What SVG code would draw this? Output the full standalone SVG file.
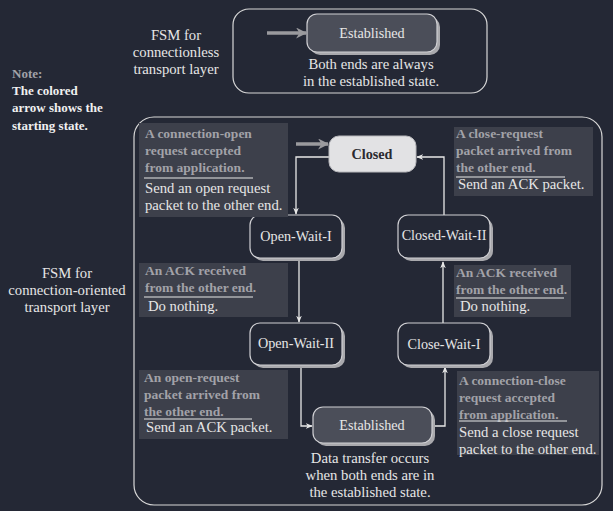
<svg xmlns="http://www.w3.org/2000/svg" width="613" height="511" viewBox="0 0 613 511">
<defs>
<marker id="ah" viewBox="0 0 10 10" refX="9" refY="5" markerWidth="7" markerHeight="7" orient="auto" markerUnits="userSpaceOnUse"><path d="M0,1 L10,5 L0,9 L3,5 Z" fill="#e8e8e8"/></marker>
<marker id="gh" viewBox="0 0 10 10" refX="9" refY="5" markerWidth="11" markerHeight="11" orient="auto" markerUnits="userSpaceOnUse"><path d="M0,0 L10,5 L0,10 L3,5 Z" fill="#9a9a9e"/></marker>
</defs>
<style>
text{font-family:"Liberation Serif","Times New Roman",serif;font-size:14.7px;fill:#e6e6e6}
.c{text-anchor:middle}
.n{font-size:14.2px}
.b{font-weight:bold;fill:#a2a2a8;font-size:13.5px}
.nb{font-weight:bold;fill:#f0f0f0;font-size:13px}
.frame{fill:none;stroke:#d8d8d8;stroke-width:1.2}
.ann{fill:#3d404b}
.sep{stroke:#e8e8e8;stroke-width:1.2}
.sh{fill:#a9a9ad}
.st{fill:#242835;stroke:#d0d0d4;stroke-width:1.2}
.est{fill:#4b4e59;stroke:#d0d0d4;stroke-width:1.2}
.con{fill:none;stroke:#e8e8e8;stroke-width:1.3}
.ga{fill:none;stroke:#9a9a9e;stroke-width:3.5}
</style>
<rect width="613" height="511" fill="#242835"/>

<g id="note">
<text x="12" y="78" class="b" style="font-size:13px">Note:</text>
<text x="12" y="95" class="nb">The colored</text>
<text x="12" y="112" class="nb">arrow shows the</text>
<text x="12" y="130" class="nb">starting state.</text>
</g>

<g id="label-connectionless">
<text x="176" y="40" class="c">FSM for</text>
<text x="176" y="57" class="c">connectionless</text>
<text x="176" y="74" class="c">transport layer</text>
</g>

<g id="label-connection-oriented">
<text x="67" y="278" class="c">FSM for</text>
<text x="67" y="295" class="c">connection-oriented</text>
<text x="67" y="312" class="c">transport layer</text>
</g>

<g id="frames">
<rect x="233" y="9" width="254" height="84" rx="16" class="frame"/>
<rect x="134" y="117" width="468" height="388" rx="20" class="frame"/>
</g>

<g id="connectors">
<path d="M267,33 L306,33" class="ga" marker-end="url(#gh)"/>
<path d="M296,144 L328,144" class="ga" marker-end="url(#gh)"/>
<path d="M329,157 L296,157 L296,214" class="con" marker-end="url(#ah)"/>
<path d="M299,261 L299,322" class="con" marker-end="url(#ah)"/>
<path d="M301,368 L301,426 L312,426" class="con" marker-end="url(#ah)"/>
<path d="M432,426 L445,426 L445,367" class="con" marker-end="url(#ah)"/>
<path d="M443,323 L443,262" class="con" marker-end="url(#ah)"/>
<path d="M444,215 L444,157 L417,157" class="con" marker-end="url(#ah)"/>
</g>

<g id="established-top">
<rect x="310" y="17" width="130" height="38" rx="10" class="sh"/>
<rect x="307" y="14" width="130" height="38" rx="10" class="est"/>
<text x="372" y="38" class="c n">Established</text>
<text x="371" y="69" class="c">Both ends are always</text>
<text x="371" y="86" class="c">in the established state.</text>
</g>

<g id="closed">
<rect x="329" y="136" width="87" height="36" rx="10" fill="#e2e2e4" stroke="#b8b8bc" stroke-width="1"/>
<text x="372" y="159" class="c n" style="font-weight:bold;fill:#2a2a30">Closed</text>
</g>

<g id="open-wait-1">
<rect x="253" y="218" width="92" height="43" rx="10" class="sh"/>
<rect x="250" y="215" width="92" height="43" rx="10" class="st"/>
<text x="296" y="241" class="c n">Open-Wait-I</text>
</g>

<g id="open-wait-2">
<rect x="253" y="326" width="92" height="42" rx="10" class="sh"/>
<rect x="250" y="323" width="92" height="42" rx="10" class="st"/>
<text x="296" y="348" class="c n">Open-Wait-II</text>
</g>

<g id="closed-wait-2">
<rect x="401" y="218" width="92" height="43" rx="10" class="sh"/>
<rect x="398" y="215" width="92" height="43" rx="10" class="st"/>
<text x="444" y="240" class="c n">Closed-Wait-II</text>
</g>

<g id="close-wait-1">
<rect x="401" y="326" width="92" height="42" rx="10" class="sh"/>
<rect x="398" y="323" width="92" height="42" rx="10" class="st"/>
<text x="444" y="349" class="c n">Close-Wait-I</text>
</g>

<g id="established">
<rect x="316" y="410" width="119" height="36" rx="10" class="sh"/>
<rect x="313" y="407" width="119" height="36" rx="10" class="est"/>
<text x="372" y="430" class="c n">Established</text>
<text x="370" y="463" class="c">Data transfer occurs</text>
<text x="370" y="480" class="c">when both ends are in</text>
<text x="370" y="497" class="c">the established state.</text>
</g>

<g id="ann-open">
<rect x="139" y="123" width="149" height="94" class="ann"/>
<text x="145" y="138" class="b">A connection-open</text>
<text x="145" y="155" class="b">request accepted</text>
<text x="145" y="172" class="b">from application.</text>
<line x1="144" y1="178" x2="253" y2="178" class="sep"/>
<text x="145" y="193">Send an open request</text>
<text x="145" y="210">packet to the other end.</text>
</g>

<g id="ann-close-req">
<rect x="454" y="127" width="139" height="69" class="ann"/>
<text x="456" y="138" class="b">A close-request</text>
<text x="456" y="155" class="b">packet arrived from</text>
<text x="456" y="172" class="b">the other end.</text>
<line x1="456" y1="177" x2="565" y2="177" class="sep"/>
<text x="458" y="189">Send an ACK packet.</text>
</g>

<g id="ann-ack-left">
<rect x="139" y="263" width="149" height="54" class="ann"/>
<text x="145" y="275" class="b">An ACK received</text>
<text x="145" y="292" class="b">from the other end.</text>
<line x1="144" y1="297" x2="253" y2="297" class="sep"/>
<text x="148" y="311">Do nothing.</text>
</g>

<g id="ann-ack-right">
<rect x="454" y="265" width="117" height="52" class="ann"/>
<text x="456" y="277" class="b">An ACK received</text>
<text x="456" y="294" class="b">from the other end.</text>
<line x1="456" y1="298" x2="564" y2="298" class="sep"/>
<text x="460" y="311">Do nothing.</text>
</g>

<g id="ann-open-req">
<rect x="139" y="370" width="149" height="69" class="ann"/>
<text x="144" y="382" class="b">An open-request</text>
<text x="144" y="399" class="b">packet arrived from</text>
<text x="144" y="416" class="b">the other end.</text>
<line x1="144" y1="419" x2="252" y2="419" class="sep"/>
<text x="146" y="432">Send an ACK packet.</text>
</g>

<g id="ann-close">
<rect x="457" y="371" width="142" height="84" class="ann"/>
<text x="459" y="385" class="b">A connection-close</text>
<text x="459" y="402" class="b">request accepted</text>
<text x="459" y="419" class="b">from application.</text>
<line x1="459" y1="421" x2="567" y2="421" class="sep"/>
<text x="459" y="437">Send a close request</text>
<text x="459" y="454">packet to the other end.</text>
</g>
</svg>
